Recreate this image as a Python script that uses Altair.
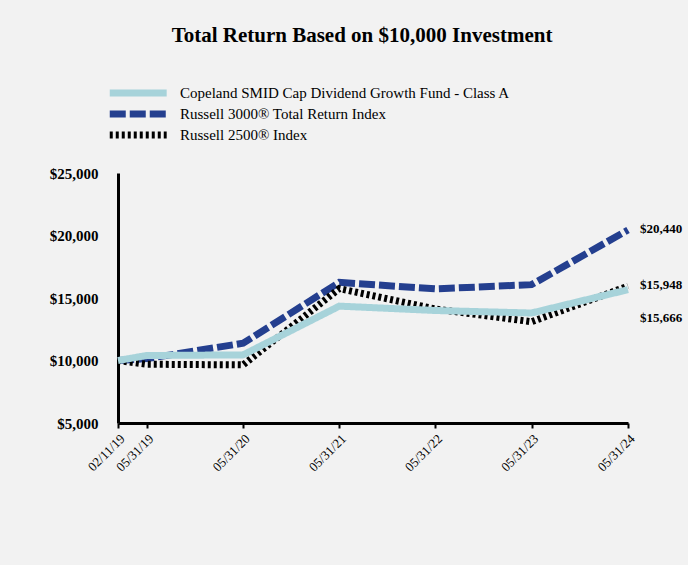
import altair as alt
import pandas as pd

dates = ["2019/02/11", "2019/05/31", "2020/05/31", "2021/05/31", "2022/05/31", "2023/05/31", "2024/05/31"]
series_names = [
    "Copeland SMID Cap Dividend Growth Fund - Class A",
    "Russell 3000® Total Return Index",
    "Russell 2500® Index",
]
fund = [10000, 10400, 10450, 14350, 14000, 13800, 15666]
r3000 = [10000, 10150, 11380, 16250, 15730, 16070, 20440]
r2500 = [10000, 9700, 9650, 15750, 14120, 13100, 15948]
end_labels = ["$20,440", "$15,948", "$15,666"]
y_ticks = [5000, 10000, 15000, 20000, 25000]

rows = []
for name, vals in [(series_names[1], r3000), (series_names[2], r2500), (series_names[0], fund)]:
    for d, v in zip(dates, vals):
        rows.append({"date": d, "value": v, "series": name})
df = pd.DataFrame(rows)

end_df = pd.DataFrame({
    "date": [dates[-1]] * 3,
    "value": [r3000[-1], r2500[-1], fund[-1]],
    "label": end_labels,
})

serif = "Liberation Serif"


def dt(s):
    return alt.DateTime(year=int(s[:4]), month=int(s[5:7]), date=int(s[8:]))


x_scale = alt.Scale(domain=[dt(dates[0]), dt(dates[-1])], padding=0)
y_scale = alt.Scale(domain=[5000, 25000], padding=0, nice=False, zero=False)

x_enc = alt.X(
    "date:T",
    scale=x_scale,
    axis=alt.Axis(
        title=None,
        values=[dt(d) for d in dates],
        format="%m/%d/%y",
        labelAngle=-45,
        labelFont=serif,
        labelFontSize=13,
        labelColor="black",
        labelFlush=False,
        labelOverlap=False,
        grid=False,
        domainColor="black",
        domainWidth=3,
        tickColor="black",
        tickWidth=2,
        tickSize=5,
        labelPadding=4,
    ),
)
y_enc = alt.Y(
    "value:Q",
    scale=y_scale,
    axis=alt.Axis(
        title=None,
        values=y_ticks,
        format="$,.0f",
        labelFont=serif,
        labelFontSize=15,
        labelFontWeight="bold",
        labelColor="black",
        labelFlush=False,
        labelOverlap=False,
        grid=False,
        ticks=False,
        domainColor="black",
        domainWidth=3,
        labelPadding=20,
    ),
)

lines = alt.Chart(df).mark_line(strokeCap="butt", strokeJoin="miter").encode(
    x=x_enc,
    y=y_enc,
    color=alt.Color(
        "series:N",
        scale=alt.Scale(domain=series_names, range=["#a7d3da", "#243f8f", "#000000"]),
        legend=alt.Legend(
            title=None,
            orient="none",
            legendX=-12,
            legendY=-88,
            labelFont=serif,
            labelFontSize=15,
            labelColor="black",
            symbolType="M-1,0H11",
            symbolSize=90,
            labelOffset=57,
            clipHeight=16,
            rowPadding=5,
            labelLimit=500,
        ),
    ),
    strokeDash=alt.StrokeDash(
        "series:N",
        scale=alt.Scale(domain=series_names, range=[[1, 0], [16, 4], [3, 3]]),
        legend=alt.Legend(title=None),
    ),
    strokeWidth=alt.StrokeWidth(
        "series:N",
        scale=alt.Scale(domain=series_names, range=[7, 7, 6]),
        legend=alt.Legend(title=None),
    ),
    detail="series:N",
)

lab_top = alt.Chart(end_df.iloc[:2]).mark_text(
    align="left", baseline="middle", dx=12, dy=-1, font=serif, fontSize=13, fontWeight="bold", color="black"
).encode(x=alt.X("date:T", scale=x_scale), y=alt.Y("value:Q", scale=y_scale), text="label:N")
lab_fund = alt.Chart(end_df.iloc[2:]).mark_text(
    align="left", baseline="middle", dx=12, dy=28, font=serif, fontSize=13, fontWeight="bold", color="black"
).encode(x=alt.X("date:T", scale=x_scale), y=alt.Y("value:Q", scale=y_scale), text="label:N")

chart = alt.layer(lines, lab_top, lab_fund).properties(
    width=510,
    height=250,
    title=alt.TitleParams(
        "Total Return Based on $10,000 Investment",
        font=serif,
        fontSize=21,
        fontWeight="bold",
        color="black",
        anchor="middle",
        dx=-11,
        offset=39,
    ),
    autosize=alt.AutoSizeParams(type="none"),
    padding={"left": 118, "top": 173, "right": 60, "bottom": 142},
    background="#f2f2f2",
).configure_view(stroke=None)

chart.save("out.html", embed_options={"renderer": "svg", "actions": False})
